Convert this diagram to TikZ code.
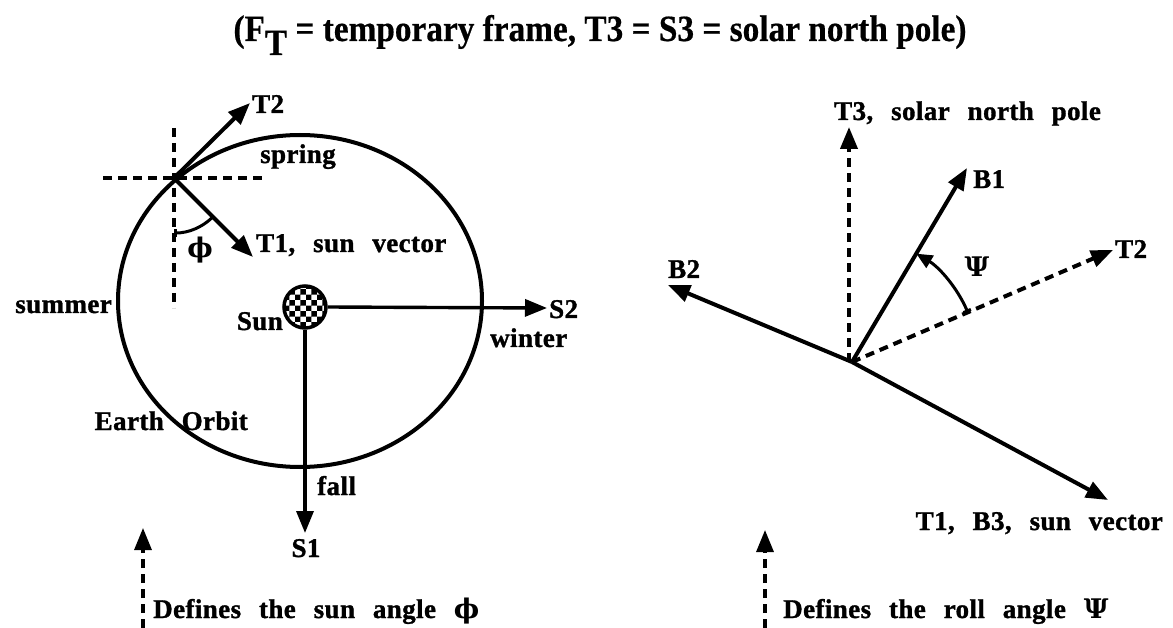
\documentclass[tikz,border=0pt]{standalone}
\usepackage{fontspec}
\usepackage{graphicx}
\setmainfont{Liberation Serif}[LetterSpace=1.5, WordSpace=2.5, BoldFeatures={FakeBold=1.2}]
\newfontfamily\titlefont{Liberation Serif}[BoldFeatures={FakeBold=0.5}]
\newfontfamily\greekfont{DejaVu Serif}
\usetikzlibrary{arrows.meta,positioning,calc,patterns,shapes.geometric}
\tikzset{
    vec/.style      = {-{Triangle[length=22pt,width=17pt]}, line width=4pt},
    dashvec/.style  = {vec, dash pattern=on 9pt off 6pt},
    guide/.style    = {line width=3.4pt, dash pattern=on 9pt off 6pt},
    anglearc/.style = {line width=3pt},
    lbl/.style      = {font=\fontsize{27}{30}\selectfont\bfseries, inner sep=0pt}
}
\newcommand{\angphi}{{\greekfont\bfseries ϕ}}
\newcommand{\angpsi}{{\greekfont\bfseries Ψ}}

\begin{document}
\begin{tikzpicture}[
        x=1pt, y=-1pt,
        orbitshape/.style={ellipse, draw, line width=4pt, minimum width=364pt, minimum height=332pt, inner sep=0pt},
        sunshape/.style={circle, draw, line width=3.5pt, pattern=checkerboard, minimum size=42pt, inner sep=0pt},
        greek/.style={inner sep=0pt, font=\fontsize{27}{30}\selectfont}
    ]
    \useasboundingbox (0,0) rectangle (1173,628);

    % --- Title ---
    \node[anchor=base, inner sep=0pt] (title) at (600,41)
        {\scalebox{0.9}[1]{\titlefont\fontsize{37}{40}\selectfont\bfseries (F\raisebox{-14pt}{T} = temporary frame, T3 = S3 = solar north pole)}};

    % --- Left: Earth orbit round the sun ---
    \node[orbitshape] (orbit) at (300,301) {};
    \node[sunshape] (sun) at (305,307) {};

    \coordinate (P) at (174,178);
    \coordinate (T2tip) at (250,103);
    \coordinate (T1tip) at (253,257);
    \coordinate (S2tip) at (547,308);
    \coordinate (S1tip) at (305,533);

    \draw[guide] ([xshift=-71pt]P) -- ([xshift=88pt]P);
    \draw[guide] ([yshift=50pt]P) -- ([yshift=-130pt]P);

    \draw[vec] (P) -- (T2tip);
    \draw[vec] (P) -- (T1tip);
    \draw[vec, line width=3.4pt] (sun.east) -- (S2tip);
    \draw[vec, line width=3.4pt] (sun.south) -- (S1tip);

    \draw[anglearc, {Bar[width=8pt]}-] ($(P)+(270:55pt)$) arc[start angle=270, end angle=314, radius=55pt];

    \node[lbl, anchor=base west] (t2_l) at (252,113) {T2};
    \node[lbl, anchor=base west] (spring_l) at (260,163) {spring};
    \node[lbl, anchor=base west] (t1_l) at (256,252) {T1, sun vector};
    \node[greek] (phi_l) at (200,250) {\angphi};
    \node[lbl, anchor=base east] (summer_l) at (112,313) {summer};
    \node[lbl, anchor=base east] (sun_l) at (283,330) {Sun};
    \node[lbl, anchor=base west] (s2_l) at (549,318) {S2};
    \node[lbl, anchor=base west] (winter_l) at (490,347) {winter};
    \node[lbl, anchor=base east] (orbit_l) at (248,430) {Earth Orbit};
    \node[lbl, anchor=base west] (fall_l) at (317,495) {fall};
    \node[lbl, anchor=base] (s1_l) at (306,557) {S1};

    % --- Right: body frame against temporary frame ---
    \coordinate (O) at (852,362);
    \coordinate (T3tip) at (849,127);
    \coordinate (B1tip) at (967,168);
    \coordinate (T2rtip) at (1113,250);
    \coordinate (B2tip) at (668,285);
    \coordinate (B3tip) at (1108,500);

    \draw[dashvec] ([xshift=-3pt]O) -- (T3tip);
    \draw[dashvec] (O) -- (T2rtip);
    \draw[vec] (O) -- (B1tip);
    \draw[vec] (O) -- (B2tip);
    \draw[vec] (O) -- (B3tip);

    \draw[anglearc, {Bar[width=8pt]}-{Triangle[length=16pt,width=14pt]}] ($(O)+(23.2:126pt)$) arc[start angle=23.2, end angle=59.3, radius=126pt];

    \node[lbl, anchor=base west] (t3_l) at (834,120) {T3, solar north pole};
    \node[lbl, anchor=base west] (b1_l) at (973,188) {B1};
    \node[lbl, anchor=base west] (t2r_l) at (1115,258) {T2};
    \node[lbl, anchor=base west] (b2_l) at (668,278) {B2};
    \node[greek] (psi_l) at (977,267) {\angpsi};
    \node[lbl, anchor=base east] (b3_l) at (1163,530) {T1, B3, sun vector};

    % --- Captions ---
    \coordinate (capL) at (143,628);
    \coordinate (capLtip) at (143,528);
    \coordinate (capR) at (765,628);
    \coordinate (capRtip) at (765,530);
    \draw[dashvec, line width=3.2pt] (capL) -- (capLtip);
    \draw[dashvec, line width=3.2pt] (capR) -- (capRtip);

    \node[lbl, anchor=base west] (sunangle_l) at (153,618) {Defines the sun angle \angphi};
    \node[lbl, anchor=base west] (rollangle_l) at (783,618) {Defines the roll angle \angpsi};

\end{tikzpicture}
\end{document}
